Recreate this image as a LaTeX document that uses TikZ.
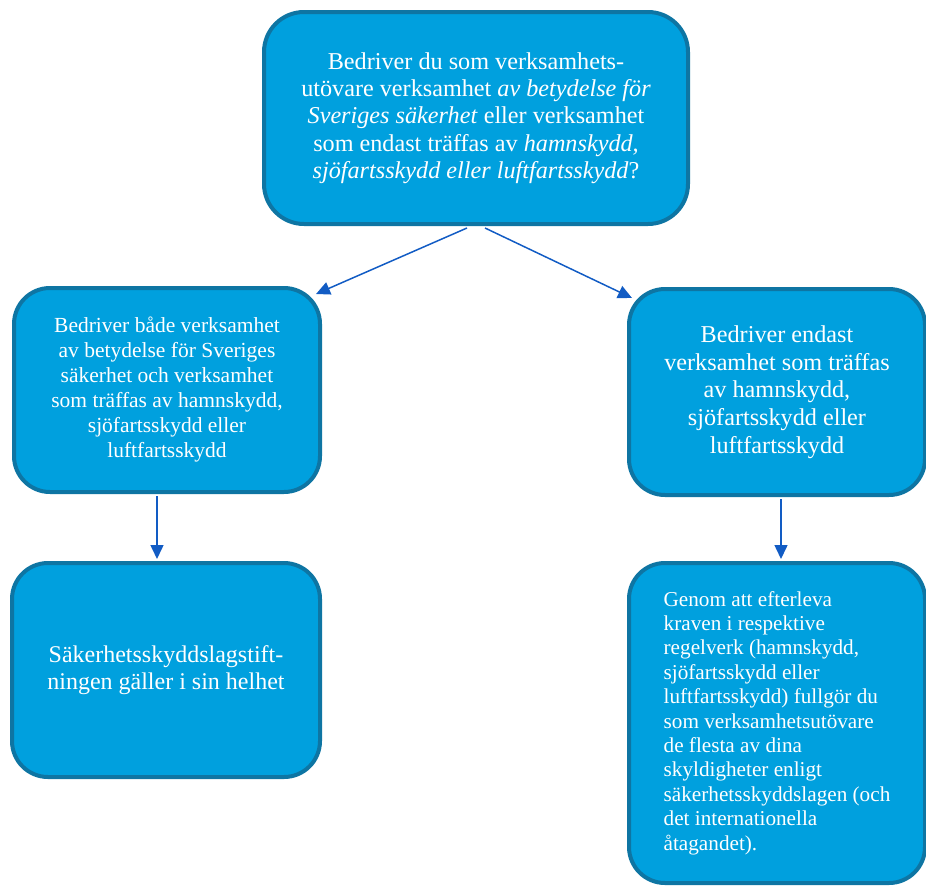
\documentclass[tikz,border=0pt]{standalone}
\usepackage{fontspec}
\setmainfont{Liberation Serif}
\usetikzlibrary{calc, arrows.meta}
\definecolor{boxfill}{RGB}{0,160,222}
\definecolor{boxedge}{RGB}{14,117,163}
\definecolor{arrowblue}{RGB}{18,92,196}

\begin{document}
\begin{tikzpicture}[x=1pt, y=-1pt,
    box/.style={draw=boxedge, fill=boxfill, line width=4pt, rounded corners=36pt,
        text=white, align=center, inner sep=0pt},
    flow/.style={draw=arrowblue, line width=1.5pt, -{Triangle[length=14pt, width=13pt]}}]
    \useasboundingbox (0,0) rectangle (926,886);
    \node[box, minimum width=424pt, minimum height=212pt, rounded corners=40pt,
        font=\fontsize{24.2}{27.3}\selectfont] (top) at (476,118)
        {Bedriver du som verksamhets-\\
         utövare verksamhet \textit{av betydelse för}\\
         \textit{Sveriges säkerhet} eller verksamhet\\
         som endast träffas av \textit{hamnskydd,}\\
         \textit{sjöfartsskydd eller luftfartsskydd}?};
    \node[box, minimum width=306pt, minimum height=204pt,
        font=\fontsize{21.5}{25}\selectfont] (leftmid) at (167,390)
        {Bedriver både verksamhet\\ av betydelse för Sveriges\\ säkerhet och verksamhet\\
         som träffas av hamnskydd,\\ sjöfartsskydd eller\\ luftfartsskydd};
    \node[box, minimum width=296pt, minimum height=206pt,
        font=\fontsize{24.2}{27.7}\selectfont] (rightmid) at (777,392)
        {Bedriver endast\\ verksamhet som träffas\\ av hamnskydd,\\ sjöfartsskydd eller\\ luftfartsskydd};
    \node[box, minimum width=308pt, minimum height=214pt,
        font=\fontsize{24}{26.5}\selectfont] (leftbot) at (166,670)
        {Säkerhetsskyddslagstift-\\ ningen gäller i sin helhet};
    \node[box, minimum width=296pt, minimum height=320pt, align=left,
        font=\fontsize{21.2}{24.4}\selectfont] (rightbot) at (777,723)
        {Genom att efterleva\\ kraven i respektive\\ regelverk (hamnskydd,\\ sjöfartsskydd eller\\
         luftfartsskydd) fullgör du\\ som verksamhetsutövare\\ de flesta av dina\\
         skyldigheter enligt\\ säkerhetsskyddslagen (och\\ det internationella\\ åtagandet).};
    \draw[flow] ($(top.south)+(-9,2)$) -- ($(leftmid.north east)+(-6,8)$);
    \draw[flow] ($(top.south)+(9,2)$) -- ($(rightmid.north west)+(5,11)$);
    \draw[flow] ($(leftmid.south)+(-10,2)$) -- ($(leftbot.north)+(-9,-2)$);
    \draw[flow] ($(rightmid.south)+(4,2)$) -- ($(rightbot.north)+(4,-2)$);
\end{tikzpicture}
\end{document}
